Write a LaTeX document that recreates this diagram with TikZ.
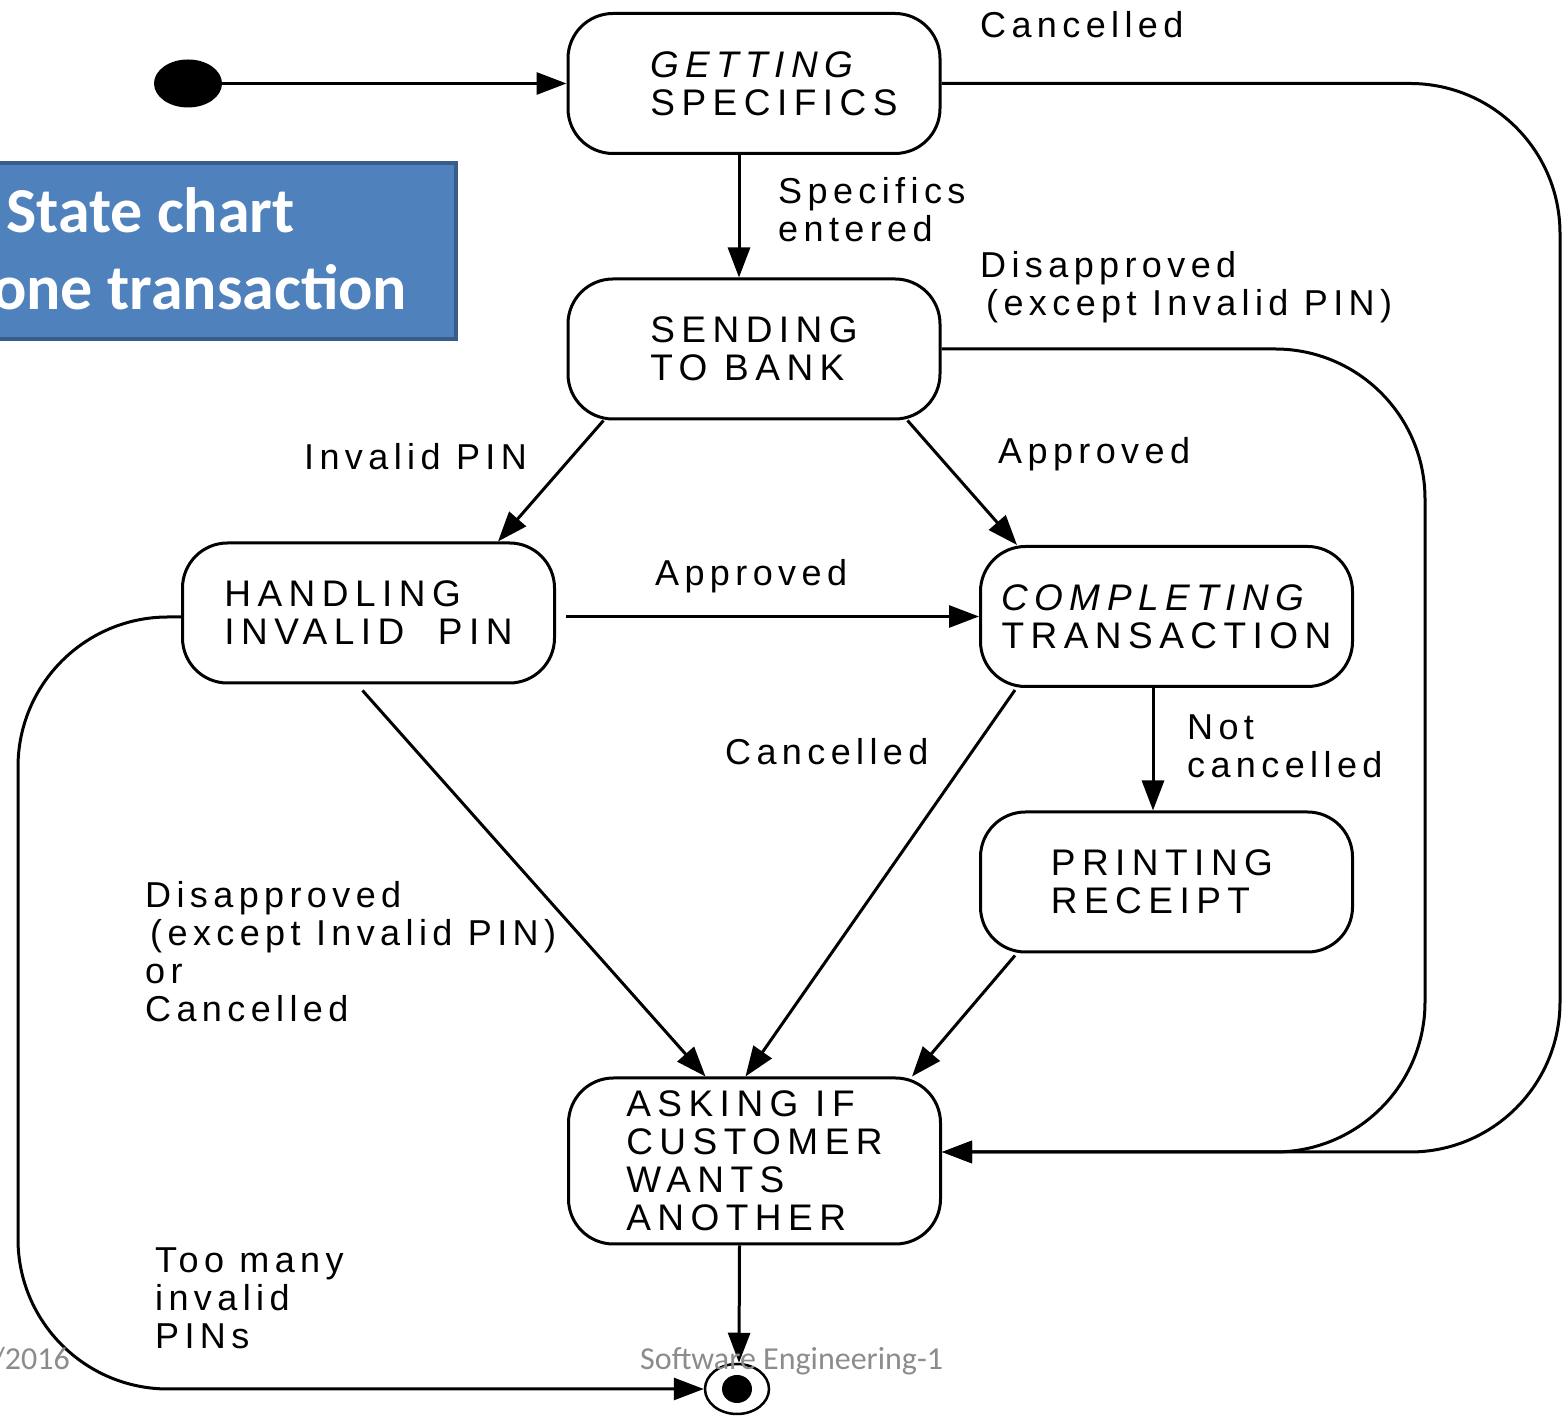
\documentclass[tikz,border=0pt]{standalone}
\usepackage{fontspec}
\setmainfont{Liberation Sans}
\newfontfamily\statefont[LetterSpace=17.5]{Liberation Sans}
\newfontfamily\labelfont[LetterSpace=15]{Liberation Sans}
\newfontfamily\slidefont{Carlito}
\usetikzlibrary{arrows.meta,shapes.geometric}
\definecolor{titleblue}{HTML}{4F81BD}
\definecolor{titleedge}{HTML}{385D8A}
\definecolor{footgray}{HTML}{8C8C8C}

\begin{document}
\begin{tikzpicture}[x=1pt,y=1pt,
  state/.style={draw, line width=3pt, rounded corners=45pt, minimum width=372pt,
    minimum height=140pt, align=left, inner sep=0pt,
    font=\statefont\fontsize{37}{38}\selectfont},
  trans/.style={line width=3pt, -{Triangle[length=30pt,width=22pt]}},
  lbl/.style={anchor=base west, align=left, inner sep=0pt,
    font=\labelfont\fontsize{36}{38}\selectfont},
  titletxt/.style={anchor=base west, inner sep=0pt, text=white,
    font=\slidefont\bfseries\fontsize{64}{70}\selectfont},
  foot/.style={inner sep=0pt, text=footgray,
    font=\slidefont\fontsize{32}{36}\selectfont},
]
\fill[white] (0,0) rectangle (1564,1416);
\useasboundingbox (0,0) rectangle (1564,1416);

% initial and final pseudo-states
\node[fill, ellipse, minimum width=68pt, minimum height=48pt, inner sep=0pt] (init) at (188,1332.5) {};
\node[draw, ellipse, line width=2.5pt, minimum width=64pt, minimum height=50pt, inner sep=0pt] (final) at (737,27) {};
\fill (final.center) ellipse (15pt and 14pt);

% states
\node[state] (GS) at (754,1332.5) {\itshape\hspace*{40pt}GETTING\\\hspace*{40pt}SPECIFICS};
\node[state] (SB) at (754,1067) {SENDING\\TO BANK};
\node[state] (HIP) at (368.5,803) {HANDLING\\INVALID\ \ PIN};
\node[state] (CT) at (1166.5,799.5) {\itshape COMPLETING\\TRANSACTION};
\node[state] (PR) at (1166.5,534) {PRINTING\\RECEIPT\hspace*{32pt}};
\node[state, minimum height=166pt] (AS) at (754.5,255) {ASKING IF\\CUSTOMER\\WANTS\\ANOTHER};

% transitions
\coordinate (ASin) at ([yshift=9pt]AS.east);
\draw[trans] (init) -- (GS.west);
\draw[trans] ([xshift=-15pt]GS.south) -- ([xshift=-15pt]SB.north);
\draw[trans, rounded corners=150pt] (GS.east) -| (1560,264) -- (ASin);
\draw[trans, rounded corners=150pt] (SB.east) -| (1425,264) -- (ASin);
\draw[trans] ([xshift=37pt]SB.south west) -- ([xshift=-58pt]HIP.north east);
\draw[trans] ([xshift=-34pt]SB.south east) -- ([xshift=38pt]CT.north west);
\draw[trans] ([xshift=10pt]HIP.east |- CT.west) -- (CT.west);
\draw[trans, rounded corners=150pt] ([yshift=-4pt]HIP.west) -| (18,27) -- (final.west);
\draw[trans] ([shift={(-6pt,-6pt)}]HIP.south) -- ([xshift=-49pt]AS.north);
\draw[trans] ([shift={(36pt,-2pt)}]CT.south west) -- ([xshift=-9pt]AS.north);
\draw[trans] ([xshift=-13.5pt]CT.south) -- ([xshift=-13.5pt]PR.north);
\draw[trans] ([shift={(36pt,-2pt)}]PR.south west) -- ([xshift=-30pt]AS.north east);
\draw[trans] ([xshift=-15pt]AS.south) -- ([xshift=2pt]final.north);

% transition labels (base = baseline of the last line)
\node[lbl] (lGS) at (980,1378) {Cancelled};
\node[lbl] (lSpec) at (778,1174) {Specifics\\entered};
\node[lbl] (lDis) at (980,1100) {Disapproved\\\hspace*{6pt}(except Invalid PIN)};
\node[lbl] (lInv) at (304,946) {Invalid PIN};
\node[lbl] (lApp1) at (998,952) {Approved};
\node[lbl] (lApp2) at (655,830) {Approved};
\node[lbl] (lCan) at (725,651) {Cancelled};
\node[lbl] (lNot) at (1187,638) {Not\\cancelled};
\node[lbl] (lDis2) at (145,394) {Disapproved\\\hspace*{5pt}(except Invalid PIN)\\or\\Cancelled};
\node[lbl] (lToo) at (155,67) {Too many\\invalid\\PINs};

% slide title box
\node[draw=titleedge, fill=titleblue, line width=4pt, minimum width=490pt,
  minimum height=176pt, anchor=north east, inner sep=0pt] (title) at (458,1255) {};
\node[titletxt] (t1) at (6,1183) {State chart};
\node[titletxt] (t2) at (-8,1106) {one transaction};

% slide footer
\node[foot, anchor=base west] (f1) at (640,46) {Software Engineering-1};
\node[foot, anchor=base east] (f2) at (70,46) {/2016};
\end{tikzpicture}
\end{document}
